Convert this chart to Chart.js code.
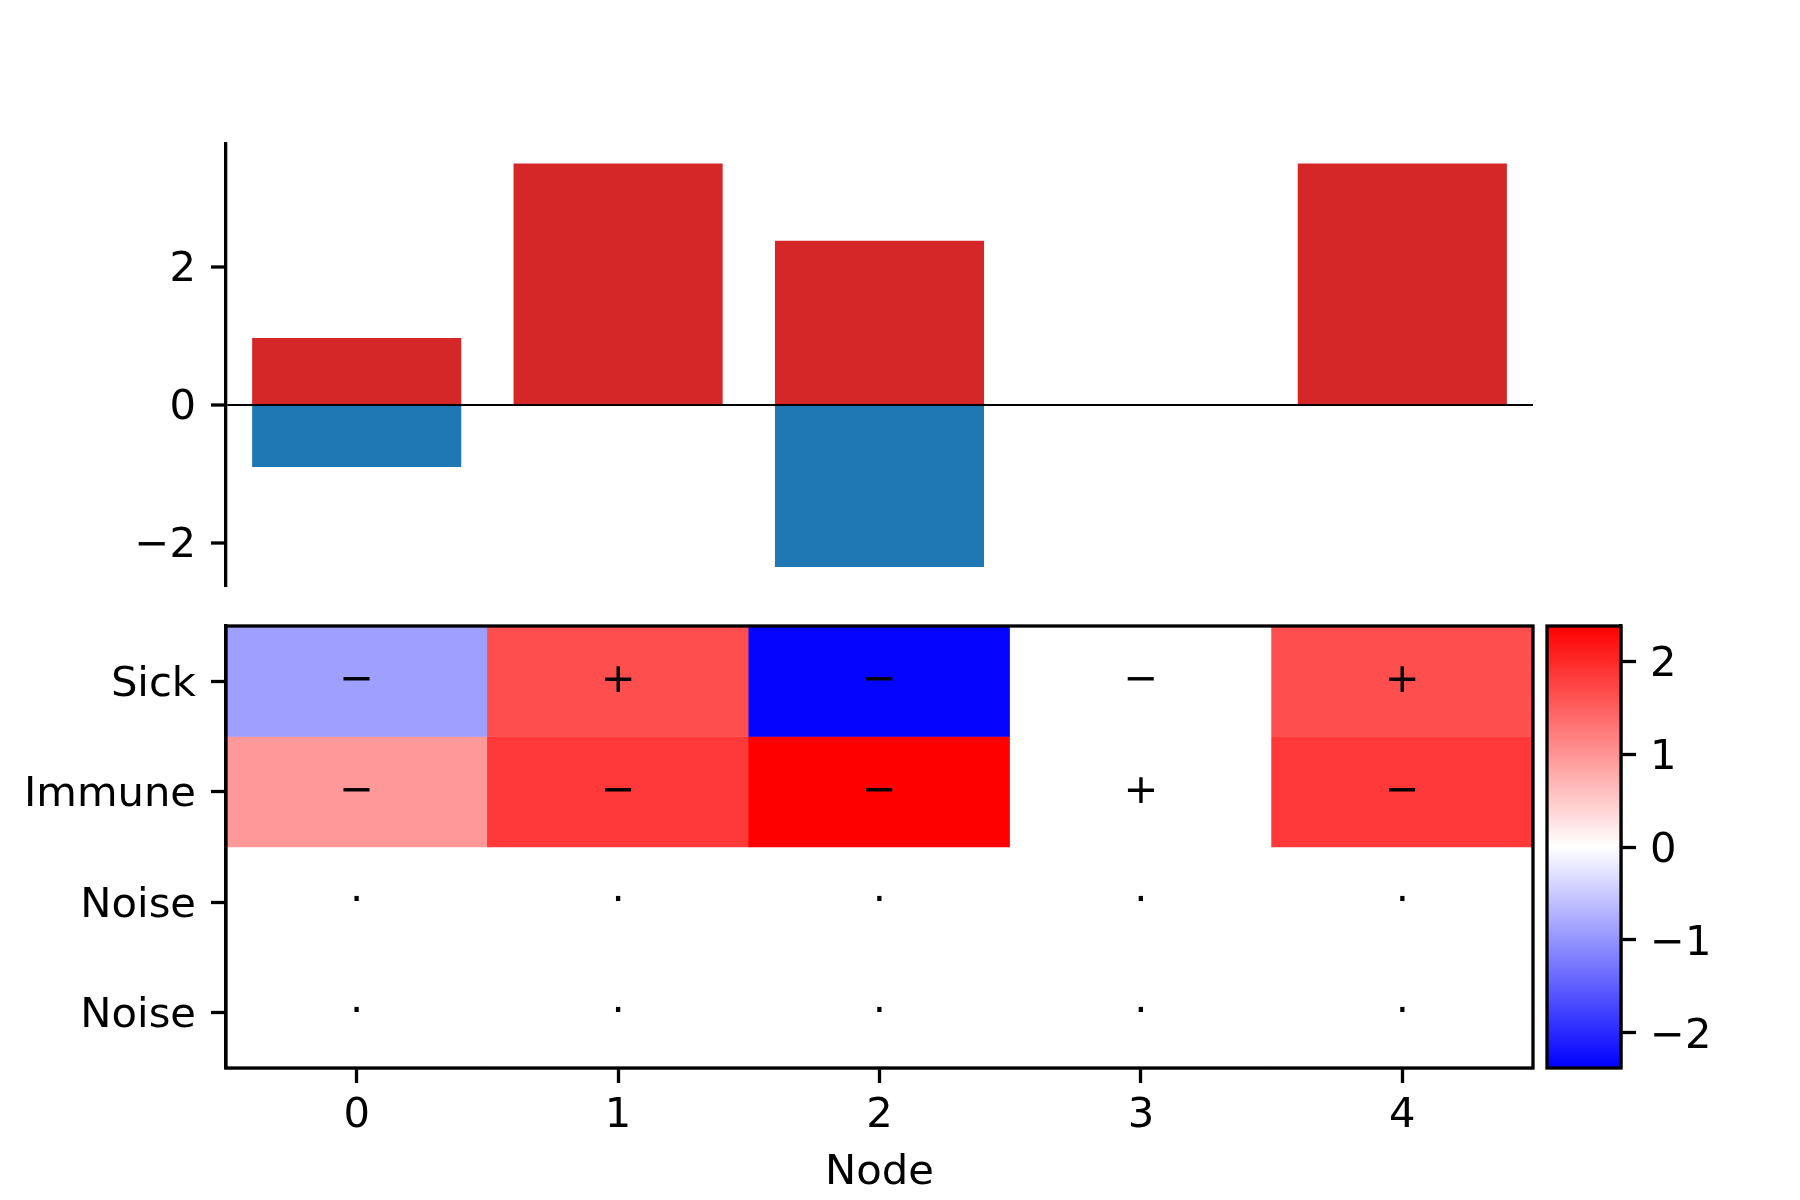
<!DOCTYPE html>
<html>
<head>
<meta charset="utf-8">
<script src="https://cdn.jsdelivr.net/npm/chart.js@4.4.1/dist/chart.umd.min.js"></script>
<style>
  html, body { margin: 0; padding: 0; background: #fff; }
  #wrap { position: relative; width: 1800px; height: 1200px; }
  #wrap canvas { position: absolute; left: 0; top: 0; }
</style>
</head>
<body>
<div id="wrap">
  <canvas id="barChart" width="1800" height="1200"></canvas>
  <canvas id="heatChart" width="1800" height="1200"></canvas>
  <canvas id="cbarChart" width="1800" height="1200"></canvas>
</div>
<script>
// ---- data ----
const nodes = ['0', '1', '2', '3', '4'];
const posBars = [0.97, 3.5, 2.38, 0, 3.5];
const negBars = [-0.9, 0, -2.35, 0, 0];
const barTicks = [-2, 0, 2];

const rowLabels = ['Sick', 'Immune', 'Noise', 'Noise'];
const sickRow = [-0.9, 1.65, -2.33, 0, 1.65];
const immuneRow = [0.96, 1.85, 2.38, 0, 1.85];
const noiseRow1 = [0, 0, 0, 0, 0];
const noiseRow2 = [0, 0, 0, 0, 0];
const sickSigns = ['\u2212', '+', '\u2212', '\u2212', '+'];
const immuneSigns = ['\u2212', '\u2212', '\u2212', '+', '\u2212'];
const noiseSigns = ['\u00b7', '\u00b7', '\u00b7', '\u00b7', '\u00b7'];

const cbarTicks = [-2, -1, 0, 1, 2];
const vmax = 2.38;

const heatRows = [sickRow, immuneRow, noiseRow1, noiseRow2];
const signRows = [sickSigns, immuneSigns, noiseSigns, noiseSigns];

// ---- shared look ----
const FONT = { family: 'DejaVu Sans', size: 41.7 };
const LW = 3.3;
const AXIS_W = 226;          // left axis width (px)
const RIGHT_PAD = 267;       // space right of the main panels

Chart.defaults.color = '#000';
Chart.defaults.font.family = FONT.family;
Chart.defaults.font.size = FONT.size;
Chart.defaults.animation = false;

// bwr colormap
function bwr(v) {
    let t = Math.max(-1, Math.min(1, v / vmax));
    let r, g, b;
    if (t < 0) { r = g = Math.round(255 * (1 + t)); b = 255; }
    else { r = 255; g = b = Math.round(255 * (1 - t)); }
    return `rgb(${r},${g},${b})`;
}

const minusFmt = v => (v < 0 ? '\u2212' + Math.abs(v) : String(v));

// draws a box around the chart area
const framePlugin = {
    id: 'frame',
    afterDraw(chart, args, opts) {
        if (!opts.show) return;
        const { ctx, chartArea: a } = chart;
        ctx.save();
        ctx.strokeStyle = '#000';
        ctx.lineWidth = LW;
        ctx.strokeRect(a.left, a.top, a.right - a.left, a.bottom - a.top);
        ctx.restore();
    }
};

// sign labels in the heatmap cells
const signPlugin = {
    id: 'signs',
    afterDatasetsDraw(chart, args, opts) {
        if (!opts.show) return;
        const { ctx, scales } = chart;
        ctx.save();
        ctx.fillStyle = '#000';
        ctx.font = `${FONT.size}px "${FONT.family}"`;
        ctx.textAlign = 'center';
        ctx.textBaseline = 'middle';
        signRows.forEach((row, r) => {
            row.forEach((s, c) => {
                ctx.fillText(s, scales.x.getPixelForValue(c), scales.y.getPixelForValue(r));
            });
        });
        ctx.restore();
    }
};

Chart.register(framePlugin, signPlugin);

// ---- top: bar chart ----
new Chart(document.getElementById('barChart'), {
    type: 'bar',
    data: {
        labels: nodes,
        datasets: [
            { data: posBars, backgroundColor: '#d62728' },
            { data: negBars, backgroundColor: '#1f77b4' }
        ]
    },
    options: {
        responsive: false,
        devicePixelRatio: 1,
        layout: { padding: { left: 0, top: 143.6, right: RIGHT_PAD, bottom: 1200 - 587 } },
        datasets: { bar: { barPercentage: 0.8, categoryPercentage: 1, borderWidth: 0 } },
        plugins: { legend: { display: false }, tooltip: { enabled: false } },
        scales: {
            x: { stacked: true, display: false },
            y: {
                stacked: true,
                min: -2.64,
                max: 3.79,
                afterFit: s => { s.width = AXIS_W; },
                afterBuildTicks: s => { s.ticks = barTicks.map(v => ({ value: v })); },
                ticks: { padding: 15, labelOffset: 3, callback: minusFmt },
                border: { display: true, color: '#000', width: LW },
                grid: {
                    color: c => (c.tick && c.tick.value === 0 ? '#000' : 'rgba(0,0,0,0)'),
                    lineWidth: c => (c.tick && c.tick.value === 0 ? 2 : 0),
                    tickColor: '#000',
                    tickWidth: LW,
                    tickLength: 15
                }
            }
        }
    }
});

// ---- bottom: heatmap built from floating bars ----
new Chart(document.getElementById('heatChart'), {
    type: 'bar',
    data: {
        labels: nodes,
        datasets: heatRows.map((row, r) => ({
            data: row.map(() => [r - 0.5, r + 0.5]),
            backgroundColor: row.map(bwr),
            grouped: false
        }))
    },
    options: {
        responsive: false,
        devicePixelRatio: 1,
        layout: { padding: { left: 0, top: 626, right: RIGHT_PAD, bottom: 0 } },
        datasets: { bar: { barPercentage: 1, categoryPercentage: 1, borderWidth: 0 } },
        plugins: {
            legend: { display: false },
            tooltip: { enabled: false },
            frame: { show: true },
            signs: { show: true }
        },
        scales: {
            x: {
                afterFit: s => { s.height = 1200 - 1068; },
                ticks: { padding: 8 },
                border: { display: true, color: '#000', width: LW },
                grid: { offset: false, drawOnChartArea: false, tickColor: '#000', tickWidth: LW, tickLength: 15 },
                title: { display: true, text: 'Node', padding: { top: 0, bottom: 1.5 } }
            },
            y: {
                min: -0.5,
                max: 3.5,
                reverse: true,
                afterFit: s => { s.width = AXIS_W; },
                afterBuildTicks: s => { s.ticks = rowLabels.map((l, i) => ({ value: i })); },
                ticks: { padding: 15, labelOffset: 3.5, callback: v => rowLabels[v] },
                border: { display: true, color: '#000', width: LW },
                grid: { drawOnChartArea: false, tickColor: '#000', tickWidth: LW, tickLength: 15 }
            }
        }
    }
});

// ---- colorbar ----
new Chart(document.getElementById('cbarChart'), {
    type: 'bar',
    data: {
        labels: ['cb'],
        datasets: [{
            data: [[-vmax, vmax]],
            backgroundColor: c => {
                const chart = c.chart;
                if (!chart.chartArea) return 'rgba(0,0,0,0)';
                const y = chart.scales.y;
                const g = chart.ctx.createLinearGradient(0, y.getPixelForValue(-vmax), 0, y.getPixelForValue(vmax));
                g.addColorStop(0, 'rgb(0,0,255)');
                g.addColorStop(0.5, 'rgb(255,255,255)');
                g.addColorStop(1, 'rgb(255,0,0)');
                return g;
            }
        }]
    },
    options: {
        responsive: false,
        devicePixelRatio: 1,
        layout: { padding: { left: 1547, top: 626, right: 0, bottom: 1200 - 1068 } },
        datasets: { bar: { barPercentage: 1, categoryPercentage: 1, borderWidth: 0 } },
        plugins: { legend: { display: false }, tooltip: { enabled: false }, frame: { show: true } },
        scales: {
            x: { display: false },
            y: {
                position: 'right',
                min: -vmax,
                max: vmax,
                afterFit: s => { s.width = 1800 - 1621; },
                afterBuildTicks: s => { s.ticks = cbarTicks.map(v => ({ value: v })); },
                ticks: { padding: 14, labelOffset: 4, callback: minusFmt },
                border: { display: true, color: '#000', width: LW },
                grid: { drawOnChartArea: false, tickColor: '#000', tickWidth: LW, tickLength: 15 }
            }
        }
    }
});
</script>
</body>
</html>
